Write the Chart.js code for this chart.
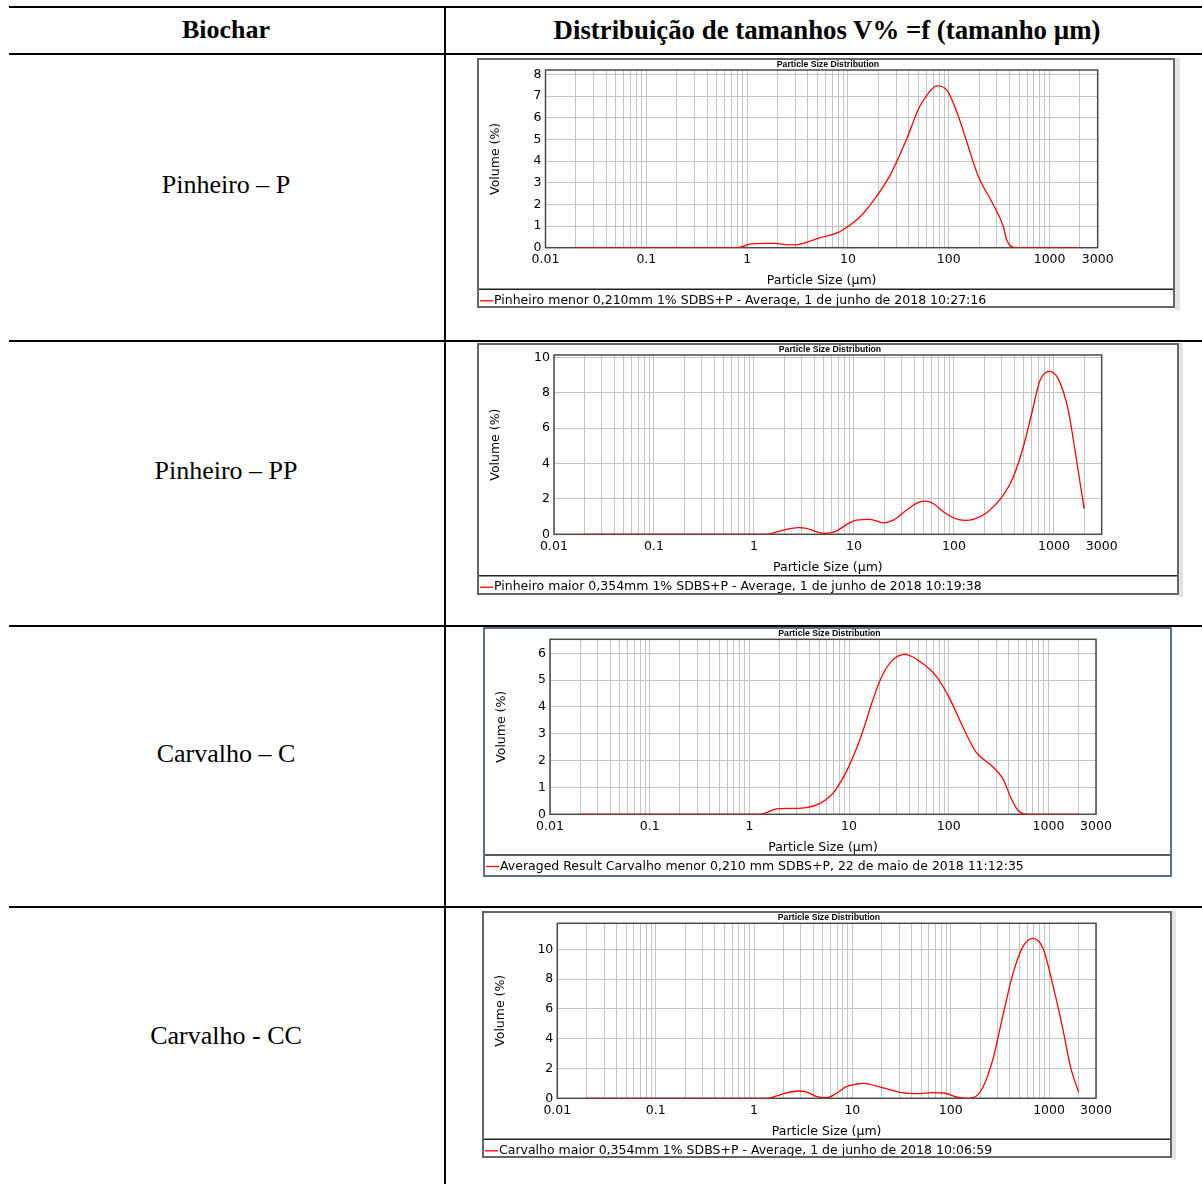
<!DOCTYPE html>
<html lang="pt">
<head>
<meta charset="utf-8">
<title>Distribuição de tamanhos de partícula – Biochar</title>
<script src="https://cdn.jsdelivr.net/npm/chart.js@4.4.1/dist/chart.umd.min.js"></script>
<style>
  html, body { margin: 0; padding: 0; background: #fff; }
  #page { position: relative; width: 1202px; height: 1184px; overflow: hidden;
          font-family: 'Liberation Serif', 'Times New Roman', serif; color: #000; }
  .hline { position: absolute; left: 9px; right: 0; height: 2px; background: #000; }
  .vline { position: absolute; left: 444px; width: 2px; top: 6px; bottom: 0; background: #000; }
  .cell { position: absolute; transform: translate(-50%, -50%); white-space: nowrap;
          font-size: 26px; line-height: 1; }
  .head { font-weight: bold; }
  .panel { position: absolute; }
  .shade { position: absolute; background: #e4e4e4; }
</style>
</head>
<body>
<div id="page">
  <div class="hline" style="top:6px"></div>
  <div class="hline" style="top:53px"></div>
  <div class="hline" style="top:340px"></div>
  <div class="hline" style="top:625px"></div>
  <div class="hline" style="top:906px"></div>
  <div class="vline"></div>

  <div class="cell head" style="left:226px; top:30px">Biochar</div>
  <div class="cell head" style="left:827px; top:30px; font-size:26.8px">Distribuição de tamanhos V% =f (tamanho µm)</div>

  <div class="cell" style="left:226px; top:185px">Pinheiro – P</div>
  <div class="cell" style="left:226px; top:471px">Pinheiro – PP</div>
  <div class="cell" style="left:226px; top:754px">Carvalho – C</div>
  <div class="cell" style="left:226px; top:1036px">Carvalho - CC</div>

  <div class="shade" style="left:1175px; top:58px; width:5px; height:252px"></div>
  <div class="shade" style="left:1179px; top:343px; width:4px; height:254px"></div>
  <div class="shade" style="left:1172px; top:911px; width:4px; height:249px"></div>

  <canvas id="cP"  class="panel"></canvas>
  <canvas id="cPP" class="panel"></canvas>
  <canvas id="cC"  class="panel"></canvas>
  <canvas id="cCC" class="panel"></canvas>
</div>

<script>
// ---- Particle sizes (µm) and volume fractions (%) for each biochar ----
const sizesP  = [0.02, 0.8, 1.07, 1.5, 1.9, 2.5, 3.0, 3.6, 5.3, 7.8, 10.5, 13.2, 18.6, 26.2, 38.4, 50.3, 60.7, 76, 95.7, 120, 151, 197, 267, 348, 376, 455, 2000];
const volumeP = [0,    0,   0.16, 0.2, 0.2, 0.13, 0.13, 0.2, 0.46, 0.68, 1.05, 1.43, 2.28, 3.35, 5.04, 6.42, 7.04, 7.47, 7.27, 6.27, 4.88, 3.27, 2.12, 0.97, 0.35, 0, 0];

const sizesPP  = [0.02, 1.34, 1.96, 2.77, 3.37, 4.2, 5.1, 6.5, 8.5, 10.6, 14.5, 19.6, 24.7, 33.6, 44, 51.3, 62.1, 78.2, 102, 129, 156, 212, 311, 392, 493, 598, 724, 898, 1104, 1390, 1622, 2000];
const volumePP = [0,    0,    0.24, 0.38, 0.33, 0.15, 0.05, 0.15, 0.56, 0.8, 0.84, 0.65, 0.8, 1.37, 1.8, 1.87, 1.74, 1.27, 0.9, 0.79, 0.84, 1.22, 2.21, 3.24, 4.93, 6.81, 8.69, 9.21, 8.78, 7.0, 4.75, 1.45];

const sizesC  = [0.02, 1.28, 1.88, 2.55, 3.75, 5.1, 6.4, 7.5, 9.4, 11.9, 13.9, 17.1, 20.9, 26.4, 36.4, 51.4, 75.4, 102, 138, 187, 276, 348, 422, 493, 598, 2000];
const volumeC = [0,    0,    0.2,  0.22, 0.25, 0.41, 0.66, 0.97, 1.59, 2.46, 3.15, 4.2, 5.07, 5.69, 5.96, 5.69, 5.13, 4.32, 3.27, 2.33, 1.77, 1.34, 0.6, 0.16, 0, 0];

const sizesCC  = [0.02, 1.35, 1.9, 2.8, 3.45, 4.35, 5.5, 6.9, 8.7, 11, 12.9, 19.6, 30.6, 44.8, 66, 88, 116, 146, 169, 214, 270, 340, 430, 541, 688, 867, 1093, 1376, 1666, 2000];
const volumeCC = [0,    0,    0.27, 0.49, 0.42, 0.11, 0.04, 0.34, 0.78, 0.96, 1.0, 0.74, 0.4, 0.31, 0.38, 0.34, 0.07, 0, 0.04, 0.78, 2.68, 5.59, 8.39, 10.17, 10.74, 10.07, 7.6, 4.7, 2.01, 0.4];

// ---- Sample names shown under each plot ----
const labelP  = 'Pinheiro menor 0,210mm 1% SDBS+P - Average, 1 de junho de 2018 10:27:16';
const labelPP = 'Pinheiro maior 0,354mm 1% SDBS+P - Average, 1 de junho de 2018 10:19:38';
const labelC  = 'Averaged Result Carvalho menor 0,210 mm SDBS+P, 22 de maio de 2018 11:12:35';
const labelCC = 'Carvalho maior 0,354mm 1% SDBS+P - Average, 1 de junho de 2018 10:06:59';

// ---- Axis ticks ----
const xTickLabels   = [0.01, 0.1, 1, 10, 100, 1000, 3000];
const xDecades      = [0.01, 0.1, 1, 10, 100, 1000];
const xMultipliers  = [1, 2, 3, 4, 5, 6, 7, 8, 9];
const yMaxima       = [8.2, 10.13, 6.52, 11.75];
const yStepSizes    = [1, 2, 1, 2];

const chartTitle = 'Particle Size Distribution';
const xTitle = 'Particle Size (µm)';
const yTitle = 'Volume (%)';

// log grid: 1..9 in every decade, plus the 3000 µm edge
const xGrid = [];
xDecades.forEach(d => xMultipliers.forEach(m => {
  const v = +(d * m).toPrecision(6);
  if (v < 3000) xGrid.push(v);
}));
xGrid.push(3000);

const isLabelled = v => xTickLabels.some(t => Math.abs(t - v) / t < 1e-6);

// ---- Panel geometry: canvas box [left, top, w, h], plot edges inside it, legend rule ----
const panels = [
  { id: 'cP',  sizes: sizesP,  volume: volumeP,  label: labelP,  box: [477, 58, 698, 250],  plot: [68.5, 12, 620.7, 189.7], legendY: 231.3 },
  { id: 'cPP', sizes: sizesPP, volume: volumePP, label: labelPP, box: [477, 343, 702, 252], plot: [77, 12, 624.7, 191.3],   legendY: 232.7 },
  { id: 'cC',  sizes: sizesC,  volume: volumeC,  label: labelC,  box: [483, 627, 689, 250], plot: [67, 12.3, 613, 187.3],   legendY: 228, frame: '#5d6f8a' },
  { id: 'cCC', sizes: sizesCC, volume: volumeCC, label: labelCC, box: [482, 911, 690, 247], plot: [75.3, 12.3, 614, 187.3], legendY: 228.3 }
];

const X_AXIS_H = 41;
const tickFont = { family: 'DejaVu Sans', size: 12.5 };

// Frame, title, plot border and the single-entry legend of each panel
const panelFrame = {
  id: 'panelFrame',
  beforeDraw(chart) {
    const { ctx, width, height } = chart;
    ctx.save();
    ctx.fillStyle = '#fff';
    ctx.fillRect(0, 0, width, height);
    ctx.restore();
  },
  beforeDatasetsDraw(chart) {
    const { ctx, chartArea: a } = chart;
    ctx.save();
    ctx.strokeStyle = '#4a4a4a';
    ctx.lineWidth = 1.5;
    ctx.strokeRect(a.left, a.top, a.right - a.left, a.bottom - a.top);
    ctx.restore();
  },
  afterDraw(chart, args, opts) {
    const { ctx, width, height } = chart;
    const ds = chart.data.datasets[0];
    ctx.save();
    // title
    ctx.fillStyle = '#000';
    ctx.font = 'bold 8.7px "Liberation Sans", Arial, sans-serif';
    ctx.textAlign = 'center';
    ctx.textBaseline = 'middle';
    ctx.fillText(opts.title, width / 2 + 2, 6.8);
    // legend rule
    ctx.strokeStyle = '#222';
    ctx.lineWidth = 1.5;
    ctx.beginPath();
    ctx.moveTo(0, opts.legendY);
    ctx.lineTo(width, opts.legendY);
    ctx.stroke();
    // legend entry
    const ly = opts.legendY + 11.5;
    ctx.strokeStyle = ds.borderColor;
    ctx.lineWidth = 1.3;
    ctx.beginPath();
    ctx.moveTo(3, ly);
    ctx.lineTo(16, ly);
    ctx.stroke();
    ctx.fillStyle = '#000';
    ctx.font = '12.5px "DejaVu Sans", sans-serif';
    ctx.textAlign = 'left';
    ctx.fillText(ds.label, 17, ly);
    // outer frame
    ctx.strokeStyle = opts.frame || '#666';
    ctx.lineWidth = 2;
    ctx.strokeRect(1, 1, width - 2, height - 2);
    ctx.restore();
  }
};

panels.forEach((p, i) => {
  const canvas = document.getElementById(p.id);
  const [bx, by, bw, bh] = p.box;
  canvas.width = bw;
  canvas.height = bh;
  canvas.style.left = bx + 'px';
  canvas.style.top = by + 'px';
  canvas.style.width = bw + 'px';
  canvas.style.height = bh + 'px';

  const [pl, pt, pr, pb] = p.plot;

  new Chart(canvas, {
    type: 'line',
    data: {
      datasets: [{
        label: p.label,
        data: p.sizes.map((s, k) => ({ x: s, y: p.volume[k] })),
        borderColor: '#ff0000',
        borderWidth: 1.3,
        pointRadius: 0,
        fill: false,
        cubicInterpolationMode: 'monotone'
      }]
    },
    options: {
      responsive: false,
      animation: false,
      devicePixelRatio: 1,
      events: [],
      layout: { padding: { left: 0, top: pt, right: bw - pr, bottom: bh - pb - X_AXIS_H } },
      plugins: {
        legend: { display: false },
        title: { display: false },
        tooltip: { enabled: false },
        panelFrame: { title: chartTitle, legendY: p.legendY, frame: p.frame }
      },
      scales: {
        x: {
          type: 'logarithmic',
          min: 0.01,
          max: 3000,
          afterBuildTicks: s => { s.ticks = xGrid.map(v => ({ value: v })); },
          afterFit: s => { s.height = X_AXIS_H; },
          grid: { color: '#c4c4c4', lineWidth: 1, drawTicks: false },
          border: { display: false },
          ticks: {
            autoSkip: false, maxRotation: 0, minRotation: 0, padding: 4.5,
            font: tickFont, color: '#000',
            callback: v => (isLabelled(v) ? String(v) : '')
          },
          title: { display: true, text: xTitle, font: tickFont, color: '#000', padding: { top: 0, bottom: 0 } }
        },
        y: {
          min: 0,
          max: yMaxima[i],
          afterFit: s => { s.width = pl; },
          grid: { color: '#c4c4c4', lineWidth: 1, drawTicks: false },
          border: { display: false },
          ticks: { stepSize: yStepSizes[i], includeBounds: false, padding: 4, font: tickFont, color: '#000' },
          title: { display: true, text: yTitle, font: tickFont, color: '#000', padding: { top: 11.5, bottom: 0 } }
        }
      }
    },
    plugins: [panelFrame]
  });
});
</script>
</body>
</html>
